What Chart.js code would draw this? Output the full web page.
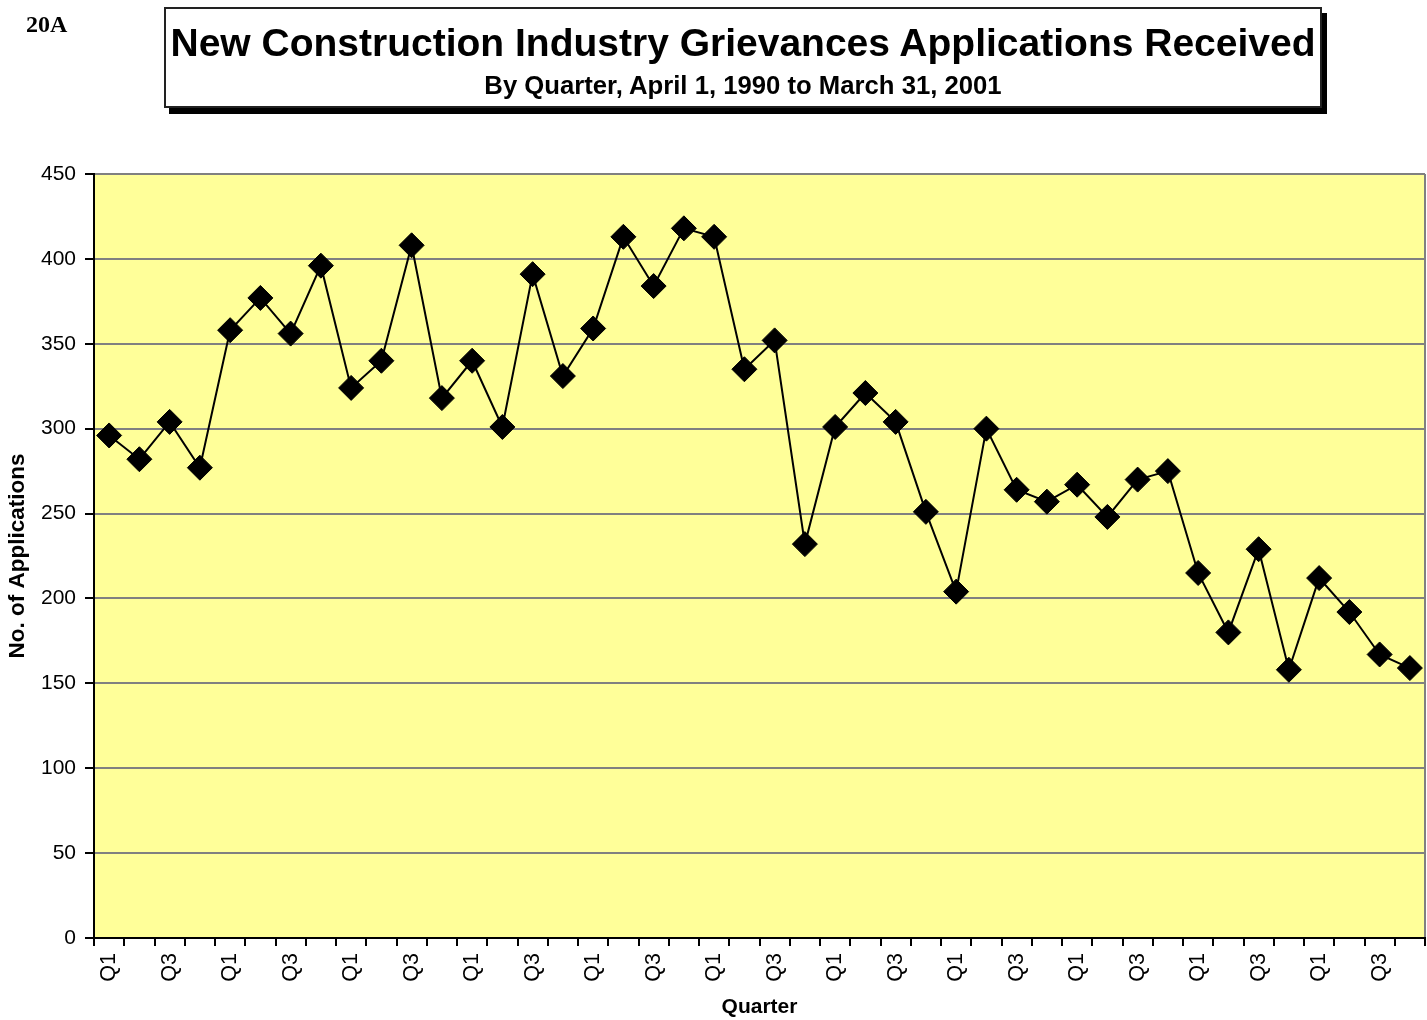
<!DOCTYPE html>
<html>
<head>
<meta charset="utf-8">
<script src="https://cdn.jsdelivr.net/npm/chart.js@4/dist/chart.umd.min.js"></script>
<style>
  html, body { margin: 0; padding: 0; background: #fff; }
  body { width: 1427px; height: 1020px; position: relative; overflow: hidden; font-family: 'Liberation Sans', Arial, sans-serif; }
  #chart { position: absolute; left: 0; top: 0; }
  #tag { position: absolute; left: 26px; top: 11px; font: bold 24px 'Liberation Serif', 'Times New Roman', serif; }
  #titlebox { position: absolute; left: 164px; top: 7px; width: 1154px; height: 97px; border: 2px solid #222; background: #fff; box-shadow: 5px 6px 0 #000; text-align: center; }
  #t1 { position: absolute; left: 0; right: 0; top: 11px; font-weight: bold; font-size: 39px; line-height: 46px; white-space: nowrap; }
  #t2 { position: absolute; left: 0; right: 0; top: 61px; font-weight: bold; font-size: 25.7px; line-height: 30px; white-space: nowrap; }
</style>
</head>
<body>
<canvas id="chart" width="1427" height="1020"></canvas>
<div id="tag">20A</div>
<div id="titlebox">
  <div id="t1">New Construction Industry Grievances Applications Received</div>
  <div id="t2">By Quarter, April 1, 1990 to March 31, 2001</div>
</div>
<script>
const quarterLabels = [
  'Q1','Q2','Q3','Q4','Q1','Q2','Q3','Q4','Q1','Q2','Q3','Q4',
  'Q1','Q2','Q3','Q4','Q1','Q2','Q3','Q4','Q1','Q2','Q3','Q4',
  'Q1','Q2','Q3','Q4','Q1','Q2','Q3','Q4','Q1','Q2','Q3','Q4',
  'Q1','Q2','Q3','Q4','Q1','Q2','Q3','Q4'
];
const shownQuarters = ['Q1','Q3'];
const applications = [
  296,282,304,277, 358,377,356,396, 324,340,408,318,
  340,301,391,331, 359,413,384,418, 413,335,352,232,
  301,321,304,251, 204,300,264,257, 267,248,270,275,
  215,180,229,158, 212,192,167,159
];
const yMin = 0, yMax = 450, yStep = 50;
const xTitle = 'Quarter';
const yTitle = 'No. of Applications';

const FONT = "'Liberation Sans', Arial, sans-serif";

const bgPlugin = {
  id: 'bg',
  beforeDraw(chart) {
    const {ctx, chartArea: a} = chart;
    ctx.save();
    ctx.fillStyle = '#FFFF99';
    ctx.fillRect(a.left, a.top, a.right - a.left, a.bottom - a.top);
    ctx.strokeStyle = '#808080';
    ctx.lineWidth = 2;
    ctx.beginPath();
    ctx.moveTo(a.right, a.top);
    ctx.lineTo(a.right, a.bottom);
    ctx.stroke();
    ctx.restore();
  }
};

new Chart(document.getElementById('chart'), {
  type: 'line',
  data: {
    labels: quarterLabels,
    datasets: [{
      data: applications,
      borderColor: '#000',
      borderWidth: 2,
      backgroundColor: '#000',
      pointStyle: 'rectRot',
      pointRadius: 12.5,
      pointHoverRadius: 12.5,
      pointBorderWidth: 1,
      pointBackgroundColor: '#000',
      pointBorderColor: '#000',
      tension: 0,
      fill: false,
      clip: false
    }]
  },
  options: {
    responsive: false,
    animation: false,
    events: [],
    layout: { autoPadding: false, padding: { top: 174, right: 2, bottom: 0, left: 0 } },
    plugins: { legend: { display: false }, tooltip: { enabled: false } },
    scales: {
      x: {
        type: 'category',
        offset: true,
        afterFit(scale) { scale.height = 82; scale.paddingLeft = 0; scale.paddingRight = 0; },
        grid: { offset: true, drawOnChartArea: false, drawTicks: true, tickLength: 8, tickColor: '#000', lineWidth: 2 },
        border: { color: '#000', width: 2 },
        ticks: {
          autoSkip: false, minRotation: 90, maxRotation: 90, padding: 7,
          color: '#000', font: { family: FONT, size: 21.5 },
          callback(v, i) { const l = this.getLabelForValue(v); return shownQuarters.includes(l) ? l : ''; }
        },
        title: { display: true, text: xTitle, color: '#000', font: { family: FONT, size: 21, weight: 'bold' }, padding: { top: 0, bottom: 0 } }
      },
      y: {
        min: yMin, max: yMax,
        afterFit(scale) { scale.width = 94; scale.paddingTop = 0; scale.paddingBottom = 0; },
        grid: { color: '#808080', lineWidth: 2, tickColor: '#000', tickLength: 9 },
        border: { color: '#000', width: 2 },
        ticks: { stepSize: yStep, padding: 9, color: '#000', font: { family: FONT, size: 21 } },
        title: { display: true, text: yTitle, color: '#000', font: { family: FONT, size: 22.5, weight: 'bold' }, padding: 4 }
      }
    }
  },
  plugins: [bgPlugin]
});
</script>
</body>
</html>
